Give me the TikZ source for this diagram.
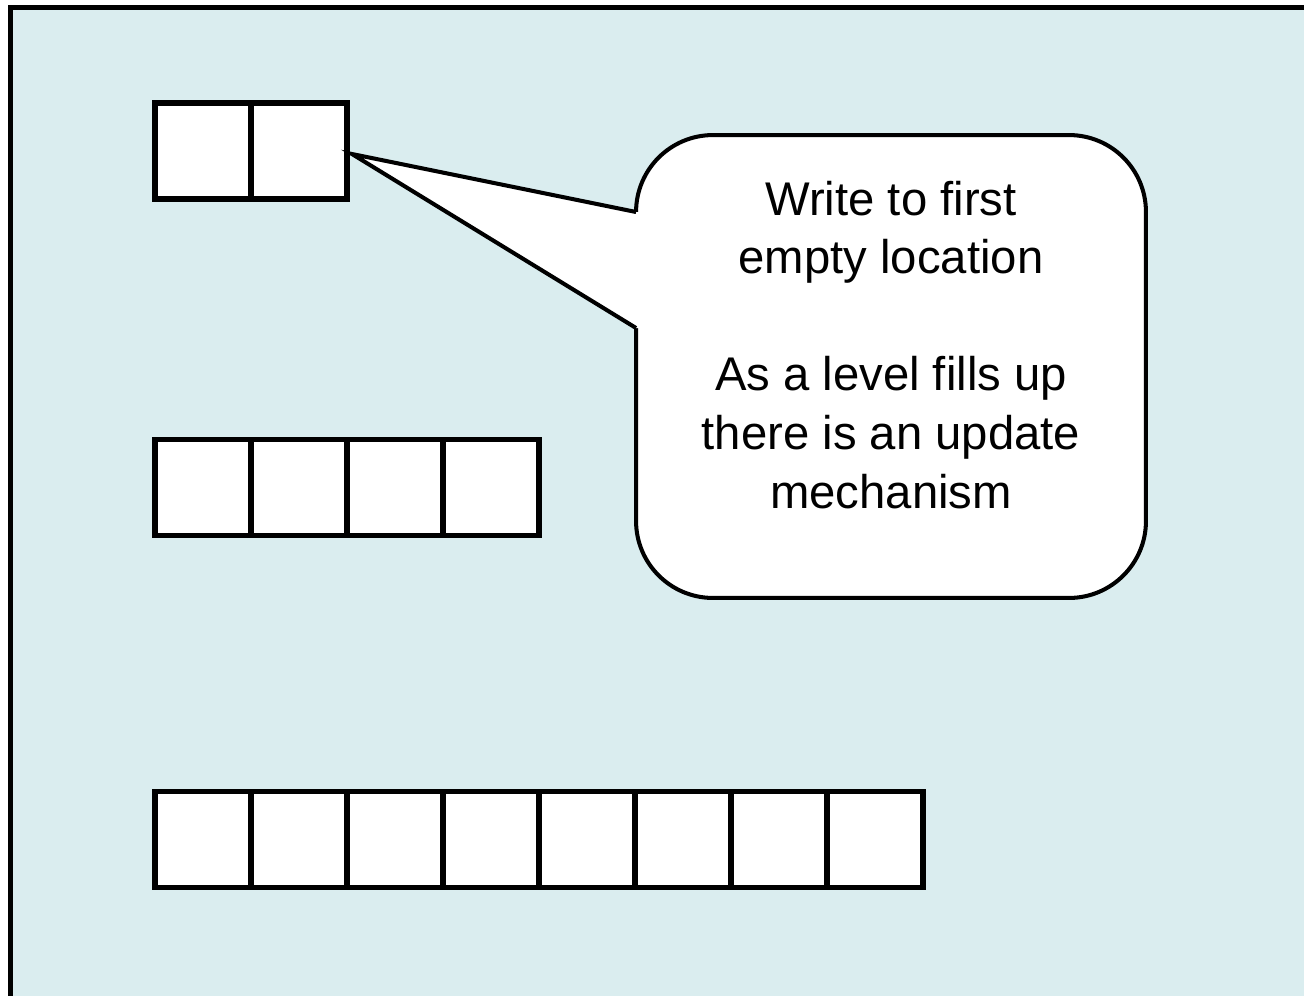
\documentclass[tikz,border=0pt]{standalone}
\usepackage{fontspec}
\setmainfont{Liberation Sans}
\usetikzlibrary{positioning, calc}
\definecolor{slidebg}{HTML}{DAEDEF}

\begin{document}
\begin{tikzpicture}[
  x=0.02cm, y=-0.02cm,
  cell/.style = {draw, fill=white, line width=3.1pt, minimum size=1.92cm,
                 inner sep=0pt, outer sep=0pt},
  note/.style = {draw, fill=white, line width=2.3pt, rounded corners=1.54cm,
                 minimum width=10.2cm, minimum height=9.26cm, outer sep=0pt,
                 align=center, text depth=0.88cm,
                 font=\fontsize{26.9pt}{33.35pt}\selectfont},
]
  \useasboundingbox (0,0) rectangle (1304,995);
  \draw[line width=2.85pt, fill=slidebg] (10.5,7.5) rectangle (1330,1020);

  % level 1
  \node[cell]                 (a1) at (203,151) {};
  \node[cell, right=0pt of a1] (a2) {};

  % level 2
  \node[cell]                 (b1) at (203,487.5) {};
  \node[cell, right=0pt of b1] (b2) {};
  \node[cell, right=0pt of b2] (b3) {};
  \node[cell, right=0pt of b3] (b4) {};

  % level 3
  \node[cell]                 (c1) at (203,839.5) {};
  \node[cell, right=0pt of c1] (c2) {};
  \node[cell, right=0pt of c2] (c3) {};
  \node[cell, right=0pt of c3] (c4) {};
  \node[cell, right=0pt of c4] (c5) {};
  \node[cell, right=0pt of c5] (c6) {};
  \node[cell, right=0pt of c6] (c7) {};
  \node[cell, right=0pt of c7] (c8) {};

  % callout
  \node[note] (note) at (891,366.5)
    {Write to first\\empty location\\\mbox{}\\As a level fills up\\there is an update\\mechanism};

  \coordinate (tip) at ($(a2.east)+(5,3)$);
  \coordinate (up)  at ($(note.west)+(0,-154.5)$);
  \coordinate (lo)  at ($(note.west)+(0,-38.5)$);
  \fill[white] (tip) -- (up) -- ($(up)+(4,0)$) -- ($(lo)+(4,0)$) -- (lo) -- cycle;
  \draw[line width=2.3pt] (up) -- (tip) -- (lo);
\end{tikzpicture}
\end{document}
